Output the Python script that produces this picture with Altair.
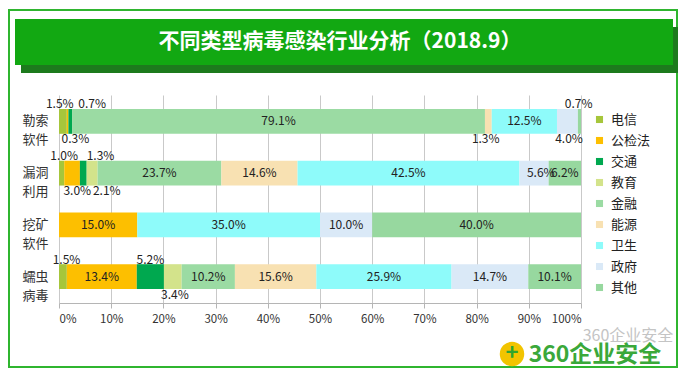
import altair as alt
import pandas as pd

FONT = "Noto Sans CJK SC"

# ---------------- data ----------------
types = ["勒索软件", "漏洞利用", "挖矿软件", "蠕虫病毒"]
industries = ["电信", "公检法", "交通", "教育", "金融", "能源", "卫生", "政府", "其他"]
colors = ["#a6c63b", "#fdbf00", "#00a84f", "#d3e38b", "#9bdba3",
          "#f8e1b2", "#8efbfa", "#dae9f7", "#97d89f"]

ransom = [1.5, 0.3, 0.7, 0.0, 79.1, 1.3, 12.5, 4.0, 0.7]
exploit = [1.0, 3.0, 1.3, 2.1, 23.7, 14.6, 42.5, 5.6, 6.2]
mining = [0.0, 15.0, 0.0, 0.0, 0.0, 0.0, 35.0, 10.0, 40.0]
worm = [1.5, 13.4, 5.2, 3.4, 10.2, 15.6, 25.9, 14.7, 10.1]

x_ticks = [0, 10, 20, 30, 40, 50, 60, 70, 80, 90, 100]
title_text = "不同类型病毒感染行业分析（2018.9）"
brand_text = "360企业安全"

# label placement (style): where small-value labels go and a small nudge
label_place = {
    ("勒索软件", "电信"): ("up", -0.6),
    ("勒索软件", "公检法"): ("down", 1.5),
    ("勒索软件", "交通"): ("up", 4.2),
    ("勒索软件", "能源"): ("down", -0.5),
    ("勒索软件", "政府"): ("down", 0.3),
    ("勒索软件", "其他"): ("up", -0.2),
    ("漏洞利用", "电信"): ("up", 0.5),
    ("漏洞利用", "公检法"): ("down", 1.0),
    ("漏洞利用", "交通"): ("up", 3.3),
    ("漏洞利用", "教育"): ("down", 2.8),
    ("漏洞利用", "政府"): ("in", 1.3),
    ("蠕虫病毒", "电信"): ("up", 0.7),
    ("蠕虫病毒", "交通"): ("up", 0.0),
    ("蠕虫病毒", "教育"): ("down", 0.4),
}

rows = []
for t, vals in zip(types, [ransom, exploit, mining, worm]):
    for i, (ind, v) in enumerate(zip(industries, vals)):
        place, nudge = label_place.get((t, ind), ("in", 0.0))
        rows.append({"type": t, "industry": ind, "order": i, "value": v,
                     "place": place, "nudge": nudge})
df = pd.DataFrame(rows)

one = pd.DataFrame({"a": [0]})

# ---------------- chart ----------------
y_enc = alt.Y("type:N", sort=types,
              scale=alt.Scale(paddingInner=0.52, paddingOuter=0.27),
              axis=alt.Axis(title=None, ticks=False, domain=False,
                            labelExpr="[substring(datum.label,0,2), substring(datum.label,2)]",
                            labelPadding=11, labelFontSize=13, labelLineHeight=19,
                            labelColor="#333333", labelFont=FONT))

x_axis = alt.Axis(values=x_ticks, labelExpr="datum.value + '%'", title=None,
                  grid=True, gridColor="#c9c9c9", domainColor="#b5b5b5",
                  tickColor="#b5b5b5", tickSize=5, labelPadding=5,
                  labelFontSize=11.5, labelColor="#333333", labelFont=FONT)

bars = alt.Chart(df).mark_bar().encode(
    x=alt.X("value:Q", stack="zero",
            scale=alt.Scale(domain=[0, 100], nice=False, clamp=True), axis=x_axis),
    y=y_enc,
    color=alt.Color("industry:N",
                    scale=alt.Scale(domain=industries, range=colors),
                    legend=alt.Legend(title=None, orient="none", legendX=534, legendY=18,
                                      symbolType="square", symbolSize=50,
                                      symbolStrokeWidth=0, labelFontSize=13,
                                      labelFont=FONT, labelColor="#222222",
                                      rowPadding=7, labelOffset=5)),
    order=alt.Order("order:Q"),
)

lab_base = alt.Chart(df).transform_filter("datum.value > 0").transform_stack(
    stack="value", groupby=["type"], as_=["x0", "x1"],
    sort=[alt.SortField("order")]
).transform_calculate(
    mid="(datum.x0 + datum.x1) / 2 + datum.nudge",
    label="format(datum.value, '.1f') + '%'"
)


def label_layer(place, dy):
    return lab_base.transform_filter(f"datum.place == '{place}'").mark_text(
        font=FONT, fontSize=12, color="#222222", dy=dy, baseline="middle"
    ).encode(x=alt.X("mid:Q"), y=alt.Y("type:N", sort=types), text="label:N")


labels_in = label_layer("in", 0)
labels_up = label_layer("up", -17)
labels_down = label_layer("down", 18)

# ---------------- decoration ----------------
frame = alt.Chart(one).mark_rect(fill=None, stroke="#2fb52f", strokeWidth=2).encode(
    x=alt.value(-50), x2=alt.value(618), y=alt.value(-85), y2=alt.value(272))
shadow = alt.Chart(one).mark_rect(color="#1d7a1d").encode(
    x=alt.value(-38), x2=alt.value(619), y=alt.value(-68), y2=alt.value(-22))
banner = alt.Chart(one).mark_rect(color="#12a812").encode(
    x=alt.value(-44), x2=alt.value(614), y=alt.value(-76), y2=alt.value(-30))
title = alt.Chart(one).mark_text(font=FONT, fontSize=21, fontWeight="bold",
                                 color="white", align="center", baseline="middle").encode(
    x=alt.value(281), y=alt.value(-53), text=alt.value(title_text))

watermark = alt.Chart(one).mark_text(font=FONT, fontSize=16, color="#c4c4c4",
                                     align="center", baseline="middle").encode(
    x=alt.value(569), y=alt.value(241), text=alt.value(brand_text))
logo = alt.Chart(one).mark_point(filled=True, shape="circle", size=600,
                                 color="#f2c400", opacity=1).encode(
    x=alt.value(453), y=alt.value(259))
logo_plus = alt.Chart(one).mark_text(font=FONT, fontSize=22, fontWeight="bold",
                                     color="#2fa52f", align="center", baseline="middle").encode(
    x=alt.value(453), y=alt.value(258), text=alt.value("+"))
brand = alt.Chart(one).mark_text(font=FONT, fontSize=23, fontWeight="bold",
                                 color="#3aa83a", align="center", baseline="middle").encode(
    x=alt.value(536), y=alt.value(260), text=alt.value(brand_text))

chart = alt.layer(
    frame, shadow, banner, title, bars, labels_in, labels_up, labels_down,
    watermark, logo, logo_plus, brand
).properties(
    width=522, height=208,
    autosize=alt.AutoSizeParams(type="none"),
    padding={"left": 51, "top": 87, "right": 98, "bottom": 66},
    background="white",
).configure_view(stroke=None)

chart.save("out.html", embed_options={"renderer": "svg", "actions": False})
